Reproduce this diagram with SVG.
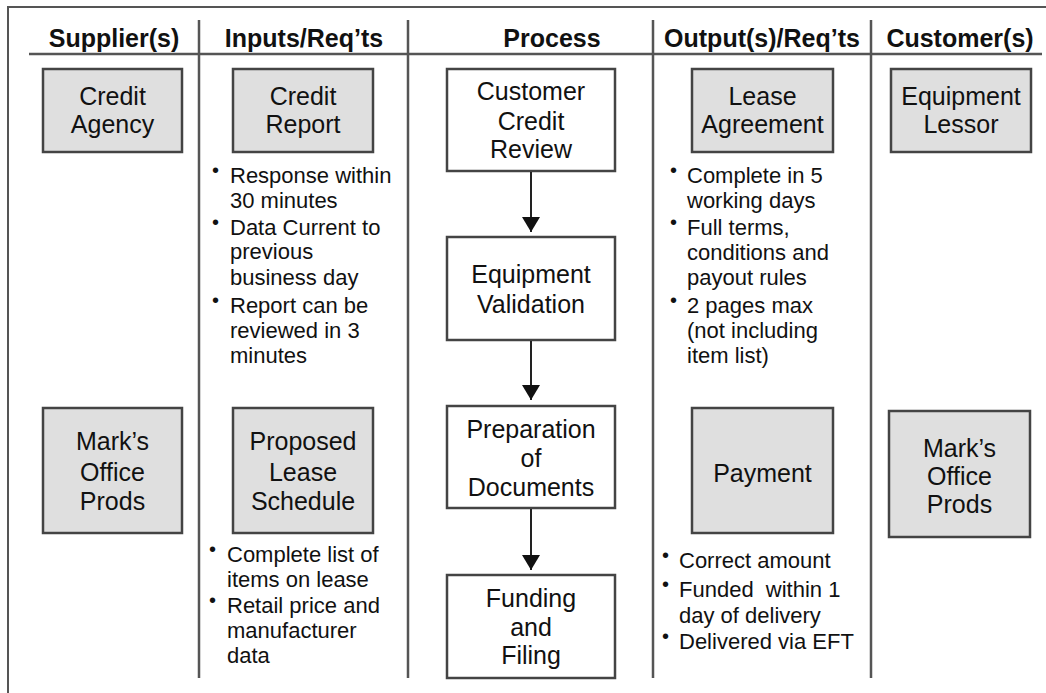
<svg xmlns="http://www.w3.org/2000/svg" width="1046" height="693" viewBox="0 0 1046 693">
<defs>
<style>
.frame{fill:none;stroke:#555;stroke-width:2}
.div{stroke:#555;stroke-width:2.5;fill:none}
.hd{font-family:"Liberation Sans",Arial,sans-serif;font-weight:bold;font-size:25px;fill:#111;text-anchor:middle}
.gbox{fill:#dfdfdf;stroke:#444;stroke-width:2.5}
.pbox{fill:#fff;stroke:#444;stroke-width:2.5}
.bt{font-family:"Liberation Sans",Arial,sans-serif;font-size:25px;fill:#111;text-anchor:middle}
.bl{font-family:"Liberation Sans",Arial,sans-serif;font-size:22px;fill:#111;white-space:pre}
.dot{font-family:"Liberation Sans",Arial,sans-serif;font-size:20px;fill:#111}
.conn{stroke:#222;stroke-width:2;fill:none}
</style>
<marker id="arr" markerUnits="userSpaceOnUse" markerWidth="15" markerHeight="18" refX="15" refY="9" orient="auto" viewBox="0 0 15 18">
<path d="M0,0 L15,9 L0,18 z" fill="#111"/>
</marker>
</defs>
<rect x="0" y="0" width="1046" height="693" fill="#fff"/>
<path class="frame" d="M8,693 L8,7 L1046,7"/>
<g id="grid">
<line class="div" x1="29" y1="54" x2="1042" y2="54"/>
<line class="div" x1="199" y1="20" x2="199" y2="678"/>
<line class="div" x1="408" y1="20" x2="408" y2="678"/>
<line class="div" x1="653" y1="20" x2="653" y2="678"/>
<line class="div" x1="871" y1="20" x2="871" y2="678"/>
</g>
<g id="headers">
<text class="hd" x="114" y="47">Supplier(s)</text>
<text class="hd" x="304" y="47">Inputs/Req’ts</text>
<text class="hd" x="552" y="47">Process</text>
<text class="hd" x="762" y="47">Output(s)/Req’ts</text>
<text class="hd" x="960" y="47">Customer(s)</text>
</g>
<g id="credit-agency">
<rect class="gbox" x="43" y="69" width="139" height="83"/>
<text class="bt" x="112.5" y="105">Credit</text>
<text class="bt" x="112.5" y="133">Agency</text>
</g>
<g id="credit-report">
<rect class="gbox" x="233" y="69" width="140" height="83"/>
<text class="bt" x="303" y="105">Credit</text>
<text class="bt" x="303" y="133">Report</text>
</g>
<g id="customer-credit-review">
<rect class="pbox" x="447" y="69" width="168" height="102"/>
<text class="bt" x="531" y="100">Customer</text>
<text class="bt" x="531" y="130">Credit</text>
<text class="bt" x="531" y="158">Review</text>
</g>
<g id="lease-agreement">
<rect class="gbox" x="692" y="69" width="141" height="83"/>
<text class="bt" x="762.5" y="105">Lease</text>
<text class="bt" x="762.5" y="133">Agreement</text>
</g>
<g id="equipment-lessor">
<rect class="gbox" x="891" y="69" width="140" height="83"/>
<text class="bt" x="961" y="105">Equipment</text>
<text class="bt" x="961" y="133">Lessor</text>
</g>
<g id="equipment-validation">
<rect class="pbox" x="447" y="237" width="168" height="103"/>
<text class="bt" x="531" y="283">Equipment</text>
<text class="bt" x="531" y="313">Validation</text>
</g>
<g id="preparation-of-documents">
<rect class="pbox" x="447" y="406" width="168" height="102"/>
<text class="bt" x="531" y="438">Preparation</text>
<text class="bt" x="531" y="467">of</text>
<text class="bt" x="531" y="496">Documents</text>
</g>
<g id="funding-and-filing">
<rect class="pbox" x="447" y="575" width="168" height="103"/>
<text class="bt" x="531" y="607">Funding</text>
<text class="bt" x="531" y="636">and</text>
<text class="bt" x="531" y="664">Filing</text>
</g>
<g id="marks-supplier">
<rect class="gbox" x="43" y="408" width="139" height="125"/>
<text class="bt" x="112.5" y="450">Mark’s</text>
<text class="bt" x="112.5" y="481">Office</text>
<text class="bt" x="112.5" y="510">Prods</text>
</g>
<g id="proposed-lease-schedule">
<rect class="gbox" x="233" y="408" width="140" height="125"/>
<text class="bt" x="303" y="450">Proposed</text>
<text class="bt" x="303" y="481">Lease</text>
<text class="bt" x="303" y="510">Schedule</text>
</g>
<g id="payment">
<rect class="gbox" x="692" y="408" width="141" height="125"/>
<text class="bt" x="762.5" y="482">Payment</text>
</g>
<g id="marks-customer">
<rect class="gbox" x="889" y="411" width="141" height="126"/>
<text class="bt" x="959.5" y="457">Mark’s</text>
<text class="bt" x="959.5" y="485">Office</text>
<text class="bt" x="959.5" y="513">Prods</text>
</g>
<g id="credit-report-reqs">
<text class="dot" x="212" y="177">•</text>
<text class="bl" x="230" y="183">Response within</text>
<text class="bl" x="230" y="208">30 minutes</text>
<text class="dot" x="212" y="229">•</text>
<text class="bl" x="230" y="235">Data Current to</text>
<text class="bl" x="230" y="259">previous</text>
<text class="bl" x="230" y="285">business day</text>
<text class="dot" x="212" y="307">•</text>
<text class="bl" x="230" y="313">Report can be</text>
<text class="bl" x="230" y="338">reviewed in 3</text>
<text class="bl" x="230" y="363">minutes</text>
</g>
<g id="lease-agreement-reqs">
<text class="dot" x="670" y="177">•</text>
<text class="bl" x="687" y="183">Complete in 5</text>
<text class="bl" x="687" y="208">working days</text>
<text class="dot" x="670" y="229">•</text>
<text class="bl" x="687" y="235">Full terms,</text>
<text class="bl" x="687" y="260">conditions and</text>
<text class="bl" x="687" y="285">payout rules</text>
<text class="dot" x="670" y="307">•</text>
<text class="bl" x="687" y="313">2 pages max</text>
<text class="bl" x="687" y="338">(not including</text>
<text class="bl" x="687" y="363">item list)</text>
</g>
<g id="proposed-lease-reqs">
<text class="dot" x="209" y="556">•</text>
<text class="bl" x="227" y="562">Complete list of</text>
<text class="bl" x="227" y="587">items on lease</text>
<text class="dot" x="209" y="607">•</text>
<text class="bl" x="227" y="613">Retail price and</text>
<text class="bl" x="227" y="638">manufacturer</text>
<text class="bl" x="227" y="663">data</text>
</g>
<g id="payment-reqs">
<text class="dot" x="662" y="562">•</text>
<text class="bl" x="679" y="568">Correct amount</text>
<text class="dot" x="662" y="591">•</text>
<text class="bl" x="679" y="597">Funded  within 1</text>
<text class="bl" x="679" y="623">day of delivery</text>
<text class="dot" x="662" y="643">•</text>
<text class="bl" x="679" y="649">Delivered via EFT</text>
</g>
<g id="connectors">
<line class="conn" x1="531" y1="172" x2="531" y2="232" marker-end="url(#arr)"/>
<line class="conn" x1="531" y1="341" x2="531" y2="400" marker-end="url(#arr)"/>
<line class="conn" x1="531" y1="509" x2="531" y2="570" marker-end="url(#arr)"/>
</g>
</svg>
